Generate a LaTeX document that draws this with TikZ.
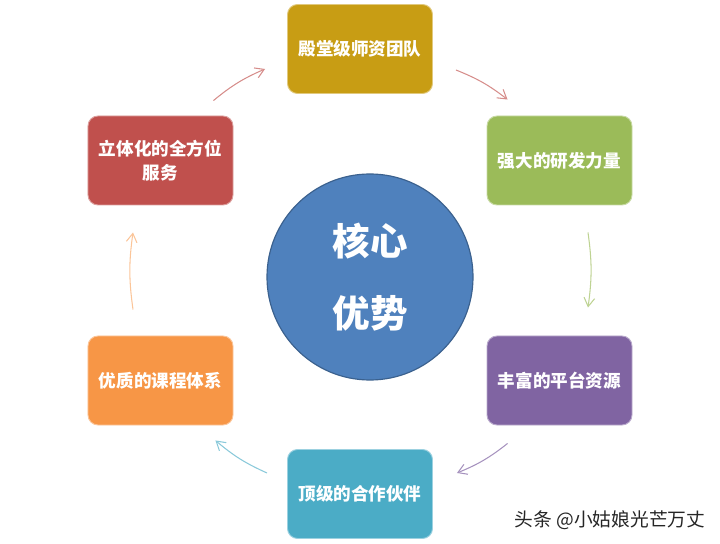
\documentclass[tikz,border=0pt]{standalone}
\usepackage{fontspec}
\setmainfont{Noto Sans CJK SC}
\usetikzlibrary{arrows.meta}

\definecolor{goldbox}{RGB}{200,157,20}
\definecolor{greenbox}{RGB}{155,187,89}
\definecolor{purplebox}{RGB}{128,100,162}
\definecolor{tealbox}{RGB}{75,172,198}
\definecolor{orangebox}{RGB}{247,150,70}
\definecolor{redbox}{RGB}{192,80,77}
\definecolor{coreblue}{RGB}{79,129,189}

\begin{document}
\begin{tikzpicture}[x=0.03cm,y=-0.03cm,->,>={Straight Barb[length=2.6mm,width=3.2mm]},
  box node/.style={rectangle,rounded corners=0.3cm,minimum width=4.35cm,minimum height=2.67cm,
    align=center,text=white,line width=0.8pt,font=\fontsize{15}{21}\selectfont\bfseries},
  core node/.style={circle,minimum size=6.18cm,fill=coreblue,draw=coreblue!75!black,line width=1pt,
    text=white,align=center,font=\fontsize{32}{62}\selectfont\bfseries},
  arrow line/.style={line width=0.9pt,bend left=8}]

  \useasboundingbox (0,0) rectangle (720,544);

  \node[core node] (0) at (370,277) {核心\\优势};
  \node[box node,fill=goldbox,draw=goldbox!55!white] (1) at (360,49) {殿堂级师资团队};
  \node[box node,fill=greenbox,draw=greenbox!55!white] (2) at (559.5,160.5) {强大的研发力量};
  \node[box node,fill=purplebox,draw=purplebox!55!white] (3) at (559.5,380.5) {丰富的平台资源};
  \node[box node,fill=tealbox,draw=tealbox!55!white] (4) at (360,494) {顶级的合作伙伴};
  \node[box node,fill=orangebox,draw=orangebox!55!white] (5) at (160.5,380.5) {优质的课程体系};
  \node[box node,fill=redbox,draw=redbox!55!white] (6) at (160.5,160.5) {立体化的全方位\\服务};
  \node[text=black!85,font=\fontsize{16}{16}\selectfont] (7) at (610,520) {头条 @小姑娘光芒万丈};

  \path[arrow line]
    ([shift={(-20,-15)}]6.north east) edge[draw=redbox!65!white] ([shift={(-22,20)}]1.west)
    ([shift={(23,21)}]1.east) edge[draw=redbox!65!white] ([shift={(21,-16)}]2.north west)
    ([shift={(28.5,27)}]2.south) edge[draw=greenbox!65!white] ([shift={(28.5,-28)}]3.north)
    ([shift={(21,18)}]3.south west) edge[draw=purplebox!70!white] ([shift={(24,-21)}]4.east)
    ([shift={(-20,-21)}]4.west) edge[draw=tealbox!65!white] ([shift={(-18,15)}]5.south east)
    ([shift={(-27.5,-26)}]5.north) edge[draw=orangebox!55!white] ([shift={(-27.5,27)}]6.south);
\end{tikzpicture}
\end{document}
